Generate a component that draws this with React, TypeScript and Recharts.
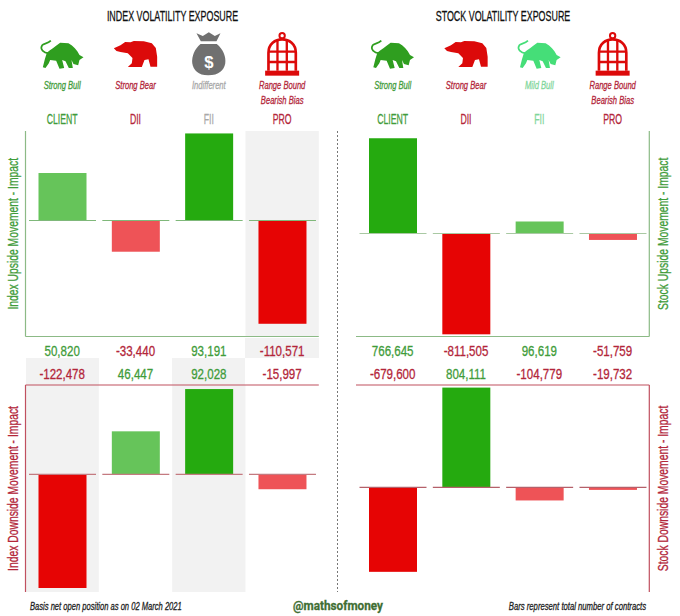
import { BarChart, Bar, Cell, XAxis, YAxis, ReferenceArea } from 'recharts';

const CATEGORIES = ['CLIENT', 'DII', 'FII', 'PRO'];

const INDEX_UPSIDE = [50820, -33440, 93191, -110571];
const INDEX_DOWNSIDE = [-122478, 46447, 92028, -15997];
const STOCK_UPSIDE = [766645, -811505, 96619, -51759];
const STOCK_DOWNSIDE = [-679600, 804111, -104779, -19732];

const INDEX_UPSIDE_DOMAIN = [-124200, 95800];
const INDEX_DOWNSIDE_DOMAIN = [-126800, 96400];
const STOCK_UPSIDE_DOMAIN = [-829000, 825000];
const STOCK_DOWNSIDE_DOMAIN = [-842000, 825000];

const INDEX_VIEWS = ['Strong Bull', 'Strong Bear', 'Indifferent', 'Range Bound|Bearish Bias'];
const STOCK_VIEWS = ['Strong Bull', 'Strong Bear', 'Mild Bull', 'Range Bound|Bearish Bias'];

const FONT = '"Liberation Sans", sans-serif';
const GREEN = '#25aa0f';
const LIGHT_GREEN = '#66c45a';
const RED = '#e60404';
const LIGHT_RED = '#ee5357';
const TEXT_GREEN = '#3f9c3a';
const TEXT_RED = '#b3263a';
const TEXT_GREY = '#a8a8a8';
const TEXT_MINT = '#7fd69a';
const AXIS_GREEN = '#8cba86';
const AXIS_RED = '#c0505f';
const SHADE = '#f2f2f2';
const BAND = 293.3 / 4;
const INDEX_LEFT = 25.5;
const STOCK_LEFT = 356;

const INDEX_COLORS = [TEXT_GREEN, TEXT_RED, TEXT_GREY, TEXT_RED];
const STOCK_COLORS = [TEXT_GREEN, TEXT_RED, TEXT_MINT, TEXT_RED];

const barColor = (v: number, all: number[]) => {
  const max = Math.max(...all.map(Math.abs));
  const strong = Math.abs(v) / max >= 0.5;
  if (v >= 0) return strong ? GREEN : LIGHT_GREEN;
  return strong ? RED : LIGHT_RED;
};

const fmt = (v: number) => v.toLocaleString('en-US');

// no condensed face is installed, so the sans is squeezed horizontally
function Narrow({ x, y, sx, size, fill, anchor = 'middle', italic, bold, rotate, family = FONT, children }: any) {
  return (
    <text
      transform={`translate(${x},${y})${rotate ? ` rotate(${rotate})` : ''} scale(${sx},1)`}
      textAnchor={anchor}
      fontFamily={family}
      fontSize={size}
      fontStyle={italic ? 'italic' : undefined}
      fontWeight={bold ? 'bold' : undefined}
      fill={fill}
      stroke={fill}
      strokeWidth={0.3}
    >
      {children}
    </text>
  );
}

function BarWithBase(props: any) {
  const { x, y, width, height, fill, value, baseColor } = props;
  const top = Math.min(y, y + height);
  const h = Math.abs(height);
  const v = Array.isArray(value) ? value[1] : value;
  const base = v >= 0 ? top + h : top;
  return (
    <g>
      <rect x={x} y={top} width={width} height={h} fill={fill} />
      <line x1={x - 9.5} x2={x + width + 9.5} y1={base} y2={base} stroke={baseColor} strokeWidth={1.2} />
    </g>
  );
}

function Panel({ values, domain, title, side, color, baseColor, names, shaded, upper }: any) {
  const rows = CATEGORIES.map((name, i) => ({ name, value: values[i] }));
  const right = side === 'right';
  const height = upper ? 258 : 234;
  const nameTick = (p: any) => (
    <Narrow x={p.x} y={24} sx={0.58} size={15} fill={names[p.index]}>
      {p.payload.value}
    </Narrow>
  );
  const valueTick = (p: any) => {
    const v = values[p.index];
    return (
      <Narrow x={p.x} y={upper ? 256 : 21} sx={0.77} size={15} fill={v >= 0 ? TEXT_GREEN : TEXT_RED}>
        {fmt(v)}
      </Narrow>
    );
  };
  const axisTitle = () => (
    <Narrow
      x={right ? 328 : 18}
      y={upper ? 133.75 : 130.5}
      sx={0.69}
      size={15}
      rotate={-90}
      fill={color === AXIS_GREEN ? TEXT_GREEN : TEXT_RED}
    >
      {title}
    </Narrow>
  );
  return (
    <BarChart
      width={340}
      height={height}
      data={rows}
      barSize={48}
      margin={{ top: 0, bottom: 0, left: right ? 16 : 0, right: right ? 0 : 21.2 }}
    >
      {upper && (
        <XAxis xAxisId="names" dataKey="name" orientation="top" height={31} axisLine={false} tickLine={false} interval={0} tick={nameTick} />
      )}
      <XAxis
        xAxisId="values"
        dataKey="name"
        orientation={upper ? 'bottom' : 'top'}
        height={upper ? 21.5 : 27}
        axisLine={{ stroke: color, strokeWidth: 1.2 }}
        tickLine={false}
        interval={0}
        tick={valueTick}
      />
      <YAxis
        type="number"
        domain={domain}
        orientation={side}
        width={right ? 30.7 : 25.5}
        allowDataOverflow
        tick={false}
        tickLine={false}
        axisLine={{ stroke: color, strokeWidth: 1.2 }}
        label={axisTitle}
      />
      {shaded.map((name: string) => (
        <ReferenceArea key={name} xAxisId="values" x1={name} x2={name} fill={SHADE} fillOpacity={1} stroke="none" />
      ))}
      <Bar
        xAxisId="values"
        dataKey="value"
        isAnimationActive={false}
        shape={(p: any) => <BarWithBase {...p} baseColor={baseColor} />}
      >
        {rows.map((r) => (
          <Cell key={r.name} fill={barColor(r.value, values)} />
        ))}
      </Bar>
    </BarChart>
  );
}

function Bull({ cx, color }: { cx: number; color: string }) {
  return (
    <g transform={`translate(${cx},0) scale(0.3333) translate(-186,0)`}>
      <path
        fill={color}
        d="M140 158 C150 150 165 140 180 128 L205 130 C220 138 230 150 238 165 L250 172 L238 180 L234 196 L220 192 L214 180 L218 204 L206 204 L196 184 L186 180 L192 204 L178 206 L168 182 L150 180 L146 190 L136 204 L128 202 L134 178 Z"
      />
      <path fill="none" stroke={color} strokeWidth={5} d="M146 160 C130 158 118 148 126 136 C130 130 142 132 152 122" />
    </g>
  );
}

function Bear({ cx, color }: { cx: number; color: string }) {
  return (
    <g transform={`translate(${cx},0) scale(0.3333) translate(-407,0)`}>
      <path
        fill={color}
        d="M342 145 L362 136 L376 126 L392 127 L402 123 L432 124 L456 130 L468 144 L472 170 L472 200 L452 200 L446 178 L434 180 L426 201 L384 201 L396 190 L398 174 L384 160 L362 156 L350 153 Z"
      />
    </g>
  );
}

function Bag({ cx, color }: { cx: number; color: string }) {
  return (
    <g transform={`translate(${cx},0) scale(0.3333) translate(-627,0)`}>
      <path fill={color} d="M590 100 L609 108 L627 97 L645 108 L662 100 L650 124 L603 124 Z" />
      <path fill={color} d="M602 132 C566 162 565 226 625 226 C690 226 688 162 651 132 Z" />
      <text x={627} y={204} textAnchor="middle" fontFamily={FONT} fontWeight="bold" fontSize={50} fill="#fff">
        $
      </text>
    </g>
  );
}

function Cage({ cx, color }: { cx: number; color: string }) {
  return (
    <g transform={`translate(${cx},0) scale(0.3333) translate(-846,0)`} fill="none" stroke={color}>
      <circle cx={846} cy={107} r={8} strokeWidth={6} />
      <path strokeWidth={8} d="M805 212 V158 C805 132 825 118 846 118 C867 118 887 132 887 158 V212" />
      <path strokeWidth={7} d="M832 120 V212 M860 120 V212 M805 155 H887 M805 186 H887" />
      <rect x={795} y={212} width={102} height={15} fill={color} stroke="none" />
    </g>
  );
}

function Views({ left, views, colors, icons }: any) {
  return (
    <>
      {views.map((v: string, i: number) => {
        const cx = left + BAND * (i + 0.5);
        const Icon = icons[i];
        const iconColor = icons[i] === Bag ? '#707070' : icons[i] === Bull ? (colors[i] === TEXT_MINT ? '#45de78' : '#2f9e1f') : '#dc0a0a';
        return (
          <g key={i}>
            <Icon cx={cx} color={iconColor} />
            {v.split('|').map((line, j) => (
              <Narrow key={j} x={cx} y={89 + j * 15} sx={0.69} size={11} italic fill={colors[i]}>
                {line}
              </Narrow>
            ))}
          </g>
        );
      })}
    </>
  );
}

const shade = (left: number, col: number, top: number, bottom: number) => (
  <div
    key={`${col}-${top}`}
    style={{ position: 'absolute', left: left + BAND * col, top, width: BAND, height: bottom - top, background: SHADE }}
  />
);

export default function App() {
  const at = (top: number, left: number) => ({ position: 'absolute' as const, top, left });
  return (
    <div style={{ position: 'absolute', left: 0, top: 0, width: 680, height: 616, background: '#fff', overflow: 'hidden' }}>
      {shade(INDEX_LEFT, 3, 338, 358)}
      {shade(INDEX_LEFT, 0, 358, 385)}
      {shade(INDEX_LEFT, 2, 358, 385)}
      <svg width={680} height={616} style={at(0, 0)}>
        <Narrow x={172.5} y={21} sx={0.575} size={15.5} fill="#111">
          INDEX VOLATILITY EXPOSURE
        </Narrow>
        <Narrow x={503} y={21} sx={0.575} size={15.5} fill="#111">
          STOCK VOLATILITY EXPOSURE
        </Narrow>
        <Views left={INDEX_LEFT} views={INDEX_VIEWS} colors={INDEX_COLORS} icons={[Bull, Bear, Bag, Cage]} />
        <Views left={STOCK_LEFT} views={STOCK_VIEWS} colors={STOCK_COLORS} icons={[Bull, Bear, Bull, Cage]} />
        <line x1={337.5} x2={337.5} y1={131} y2={592} stroke="#777" strokeWidth={1} strokeDasharray="2 2" />
        <Narrow x={30} y={610} sx={0.66} size={11.5} italic anchor="start" fill="#222">
          Basis net open position as on 02 March 2021
        </Narrow>
        <Narrow x={338} y={610} sx={0.87} size={13.5} bold family="Roboto, sans-serif" fill="#3f6e33">
          @mathsofmoney
        </Narrow>
        <Narrow x={646} y={610} sx={0.67} size={11.5} italic anchor="end" fill="#222">
          Bars represent total number of contracts
        </Narrow>
      </svg>
      <div style={at(100, 0)}>
        <Panel upper values={INDEX_UPSIDE} domain={INDEX_UPSIDE_DOMAIN} title="Index Upside Movement - Impact" side="left" color={AXIS_GREEN} baseColor="#7fb87a" names={INDEX_COLORS} shaded={['PRO']} />
      </div>
      <div style={at(358, 0)}>
        <Panel values={INDEX_DOWNSIDE} domain={INDEX_DOWNSIDE_DOMAIN} title="Index Downside Movement - Impact" side="left" color={AXIS_RED} baseColor="#c47a80" names={INDEX_COLORS} shaded={['CLIENT', 'FII']} />
      </div>
      <div style={at(100, 340)}>
        <Panel upper values={STOCK_UPSIDE} domain={STOCK_UPSIDE_DOMAIN} title="Stock Upside Movement - Impact" side="right" color={AXIS_GREEN} baseColor="#a9c9a3" names={STOCK_COLORS} shaded={[]} />
      </div>
      <div style={at(358, 340)}>
        <Panel values={STOCK_DOWNSIDE} domain={STOCK_DOWNSIDE_DOMAIN} title="Stock Downside Movement - Impact" side="right" color={AXIS_RED} baseColor="#b5606a" names={STOCK_COLORS} shaded={[]} />
      </div>
    </div>
  );
}
